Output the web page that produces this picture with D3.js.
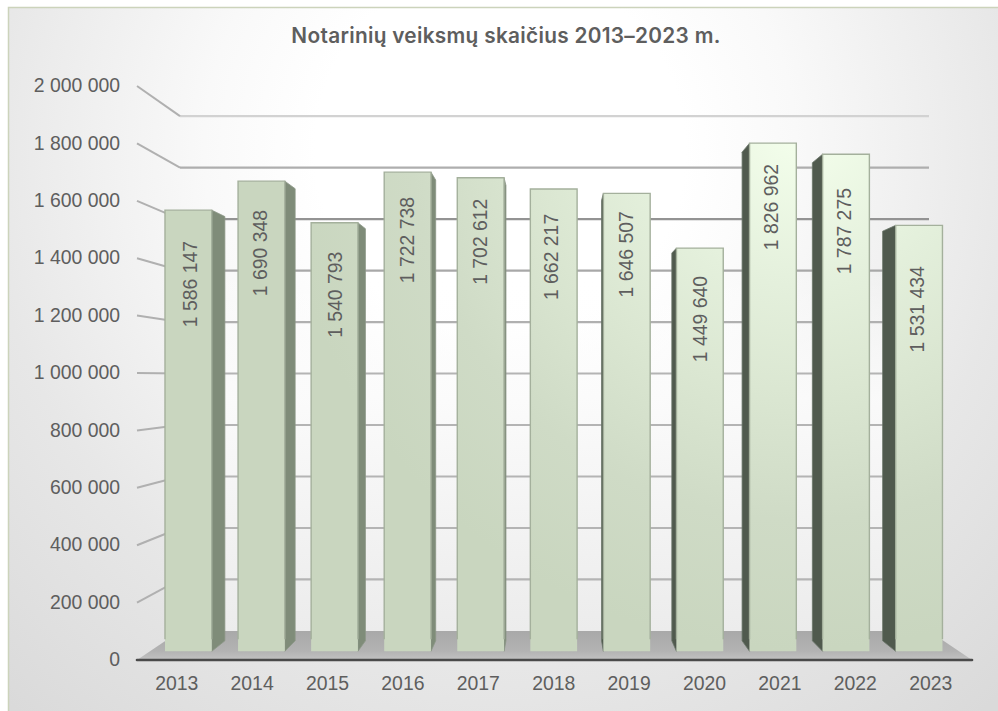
<!DOCTYPE html>
<html><head><meta charset="utf-8">
<script src="https://cdnjs.cloudflare.com/ajax/libs/d3/7.8.5/d3.min.js"></script>
<style>html,body{margin:0;padding:0;background:#fff}svg{display:block}
.lab{font-family:"Liberation Sans",Arial,sans-serif;font-size:19.4px;fill:#5e5e5e}
</style></head><body><div id="c"></div>
<script>
const titleText = "Notarinių veiksmų skaičius 2013–2023 m.";
const years = ["2013","2014","2015","2016","2017","2018","2019","2020","2021","2022","2023"];
const notarialActs = [1586147,1690348,1540793,1722738,1702612,1662217,1646507,1449640,1826962,1787275,1531434];
const yTicks = [0,200000,400000,600000,800000,1000000,1200000,1400000,1600000,1800000,2000000];
const labelDrop = [74,72,72,68,64,68,61,71,64,77,84];
const labelShift = [3,0,1,0,0,-2,0,1,-1,-1,-1];
const gridColors = ["#b4b4b4","#b4b4b4","#b4b4b4","#b4b4b4","#b4b4b4","#b4b4b4","#b0b0b0","#a8a8a8","#939393","#aeaeae","#d2d2d2"];

const W=998,H=711;
const svg=d3.select("#c").append("svg").attr("width",W).attr("height",H);
const defs=svg.append("defs");
function stops(g,arr){arr.forEach(([o,c,a])=>g.append("stop").attr("offset",o).attr("stop-color",c).attr("stop-opacity",a===undefined?1:a));}
stops(defs.append("radialGradient").attr("id","bg").attr("gradientUnits","userSpaceOnUse").attr("cx",500).attr("cy",150).attr("r",740),
  [[0,"#ffffff"],[.25,"#ffffff"],[.4,"#f9f9f9"],[.7,"#e7e7e7"],[1,"#dadada"]]);
stops(defs.append("radialGradient").attr("id","face").attr("gradientUnits","userSpaceOnUse").attr("cx",800).attr("cy",130).attr("r",520),
  [[0,"#f4ffec"],[.3,"#e4f0dc"],[.5,"#dbe7d2"],[.75,"#cfdbc6"],[1,"#c9d6bf"]]);
stops(defs.append("linearGradient").attr("id","wall").attr("x1",0).attr("y1",0).attr("x2",0).attr("y2",1),
  [[0,"#ffffff",0],[.3,"#ffffff",0],[.55,"#fbfbfb",.9],[1,"#ececec",1]]);
stops(defs.append("linearGradient").attr("id","floor").attr("x1",0).attr("y1",0).attr("x2",0).attr("y2",1),
  [[0,"#a9a9a9"],[.7,"#b3b3b3"],[1,"#c2c2c2"]]);

const cx=554.5,cy=378,K=0.103,tFront=0.30,tBack=0.66;
const plotL=137,plotR=972;
const proj=(x,y,t)=>[x+(cx-x)*K*t,y+(cy-y)*K*t];
const y=d3.scaleLinear().domain([0,2000000]).range([660,86]);
const x=d3.scaleBand().domain(years).range([139,968.4]).paddingInner(.36).paddingOuter(.18);
const line=d3.line();
const poly=pts=>line(pts)+"Z";

svg.append("rect").attr("x",8.5).attr("y",7.5).attr("width",W).attr("height",H)
  .attr("fill","url(#bg)").attr("stroke","#ccd3bb").attr("stroke-width",1.5);

// title
svg.append("text").attr("x",506).attr("y",43).attr("text-anchor","middle")
  .style("font-family","Inter,sans-serif").style("font-weight",600).style("font-size","20.8px").style("letter-spacing","0.3px").attr("fill","#5e5e5e").text(titleText);

// back wall, floor
svg.append("path").attr("fill","url(#wall)")
  .attr("d",poly([proj(plotL,y(2000000),1),proj(plotR,y(2000000),1),proj(plotR,y(0),1),proj(plotL,y(0),1)]));
svg.append("path").attr("fill","url(#floor)")
  .attr("d",poly([proj(plotL,y(0),0),proj(plotL,y(0),1),proj(plotR,y(0),1),proj(plotR,y(0),0)]));

// grid lines: back wall and left wall
yTicks.forEach((v,i)=>{
  if(v===0) return;
  svg.append("path").attr("fill","none").attr("stroke",gridColors[i]).attr("stroke-width",2.2)
    .attr("d",line([proj(plotL,y(v),1),proj(plotR,y(v),1)]));
  svg.append("path").attr("fill","none").attr("stroke","#b0b0b0").attr("stroke-width",2)
    .attr("d",line([proj(plotL,y(v),0),proj(plotL,y(v),1)]));
});
svg.append("path").attr("fill","none").attr("stroke","#4a4a4a").attr("stroke-width",2.6).attr("stroke-linecap","round")
  .attr("d",line([proj(plotL,y(0),0),proj(plotR,y(0),0)]));

// bars
const bars=svg.append("g").selectAll("g").data(years.map((yr,i)=>({yr,v:notarialActs[i],i}))).join("g");
bars.each(function(d){
  const g=d3.select(this);
  const xl=x(d.yr), xr=xl+x.bandwidth(), y0=y(0), y1=y(d.v);
  const tl=proj(xl,y1,tFront), tr=proj(xr,y1,tFront), bl=proj(xl,y0,tFront), br=proj(xr,y0,tFront);
  if(xr<cx){
    g.append("path").attr("fill","#7f8c79").attr("stroke","#8b9786").attr("stroke-width",.8)
      .attr("d",poly([tr,proj(xr,y1,tBack),proj(xr,y0,tBack),br]));
  }
  if(xl>cx){
    g.append("path").attr("fill","#505a4e").attr("stroke","#6a7568").attr("stroke-width",.8)
      .attr("d",poly([tl,proj(xl,y1,tBack),proj(xl,y0,tBack),bl]));
  }
  g.append("path").attr("fill","url(#face)").attr("d",poly([tl,tr,br,bl]));
  g.append("path").attr("fill","none").attr("stroke","#a4b09c").attr("stroke-width",1.4)
    .attr("d",line([[bl[0],bl[1]-12],tl,tr,[br[0],br[1]-12]]));
});

// data labels
bars.append("text").attr("class","lab").attr("text-anchor","middle").attr("dominant-baseline","central")
  .attr("transform",d=>{
    const xl=x(d.yr);
    const c=proj(xl+x.bandwidth()/2,y(d.v),tFront);
    return `translate(${c[0]-1+labelShift[d.i]},${c[1]+labelDrop[d.i]}) rotate(-90)`;
  })
  .text(d=>d3.format(",")(d.v).replace(/,/g," "));

// axes
const yAxis=d3.axisLeft(y).tickValues(yTicks).tickSize(0).tickPadding(17)
  .tickFormat(v=>d3.format(",")(v).replace(/,/g," "));
const ya=svg.append("g").attr("transform",`translate(${plotL},-0.5)`).call(yAxis);
ya.select(".domain").remove();
ya.selectAll("text").attr("class","lab").attr("fill",null);
const xAxis=d3.axisBottom(x).tickSize(0).tickPadding(0);
const xa=svg.append("g").attr("transform","translate(0,676)").call(xAxis);
xa.select(".domain").remove();
xa.selectAll("text").attr("class","lab").attr("fill",null);
</script></body></html>
